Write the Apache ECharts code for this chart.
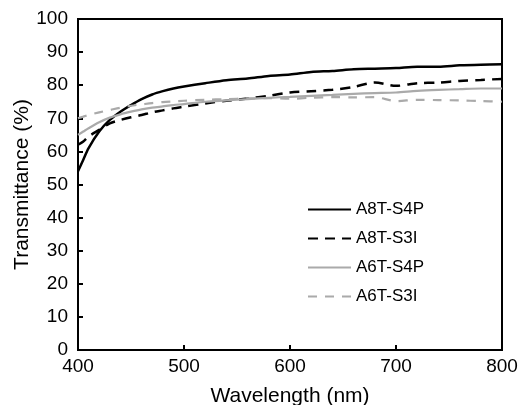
<!DOCTYPE html>
<html>
<head>
<meta charset="utf-8">
<script src="https://cdn.jsdelivr.net/npm/echarts@6/dist/echarts.min.js"></script>
<style>
  html, body { margin: 0; padding: 0; background: #fff; }
  #chart { width: 524px; height: 405px; }
</style>
</head>
<body>
<div id="chart"></div>
<script>
// wavelength (nm)
var wl = [400,405,410,420,430,440,450,460,470,480,490,500,520,540,560,580,600,620,640,660,680,700,720,740,760,780,800];
// transmittance (%)
var a8tS4P = [54,57.5,61,66,69.5,72,74,75.8,77.2,78.2,79,79.6,80.6,81.5,82,82.8,83.2,84,84.3,84.8,85,85.2,85.6,85.6,86,86.2,86.3];
var a8tS3I = [62,63,64.5,66.5,68.5,69.5,70.3,71,71.8,72.4,73,73.5,74.5,75.3,76,76.8,77.8,78.2,78.6,79.5,80.8,79.8,80.6,80.8,81.3,81.6,81.9];
var a6tS4P = [65,66,67,68.8,70.2,71.2,72,72.7,73.2,73.6,74,74.3,75,75.4,75.8,76.2,76.5,76.8,77.1,77.4,77.6,77.8,78.3,78.6,78.8,79,79];
var a6tS3I = [70,70.5,71,71.8,72.5,73.2,73.8,74.2,74.6,74.9,75.1,75.3,75.6,75.8,76,76.1,75.9,76.2,76.4,76.3,76.4,75.2,75.6,75.5,75.4,75.2,75];
var names = ['A8T-S4P', 'A8T-S3I', 'A6T-S4P', 'A6T-S3I'];

function pairs(ys) {
    var out = [];
    for (var i = 0; i < wl.length; i++) out.push([wl[i], ys[i]]);
    return out;
}

function mkSeries(name, ys, color, type, width) {
    return {
        name: name,
        type: 'line',
        data: pairs(ys),
        symbol: 'none',
        legendIcon: 'none',
        smooth: 0.3,
        color: color,
        lineStyle: { color: color, width: width, type: type },
        z: 3
    };
}

var myChart = echarts.init(document.getElementById('chart'));
var font = 'Liberation Sans, Arial, sans-serif';
myChart.setOption({
    animation: false,
    backgroundColor: '#fff',
    textStyle: { fontFamily: font },
    grid: {
        left: 78, right: 22, top: 19, bottom: 55,
        outerBoundsMode: 'none',
        show: true, borderColor: '#000', borderWidth: 2
    },
    legend: {
        data: names,
        orient: 'vertical',
        left: 302,
        top: 196,
        itemWidth: 43,
        itemHeight: 20,
        itemGap: 12,
        itemStyle: { opacity: 0 },
        textStyle: { fontFamily: font, fontSize: 17, color: '#000' }
    },
    xAxis: {
        type: 'value',
        min: 400,
        max: 800,
        interval: 100,
        name: 'Wavelength (nm)',
        nameLocation: 'middle',
        nameGap: 36,
        nameMoveOverlap: false,
        nameTextStyle: { fontFamily: font, fontSize: 21, color: '#000' },
        axisLine: { lineStyle: { color: '#000', width: 2 } },
        axisTick: { inside: true, length: 5, lineStyle: { color: '#000', width: 2 } },
        axisLabel: { fontFamily: font, fontSize: 19, color: '#000', margin: 7 },
        splitLine: { show: false }
    },
    yAxis: {
        type: 'value',
        min: 0,
        max: 100,
        interval: 10,
        name: 'Transmittance (%)',
        nameLocation: 'middle',
        nameGap: 45,
        nameMoveOverlap: false,
        nameTextStyle: { fontFamily: font, fontSize: 21, color: '#000' },
        axisLine: { lineStyle: { color: '#000', width: 2 } },
        axisTick: { inside: true, length: 5, lineStyle: { color: '#000', width: 2 } },
        axisLabel: { fontFamily: font, fontSize: 19, color: '#000', margin: 10 },
        splitLine: { show: false }
    },
    series: [
        mkSeries(names[0], a8tS4P, '#000000', 'solid', 2.5),
        mkSeries(names[1], a8tS3I, '#000000', [10, 7], 2.5),
        mkSeries(names[2], a6tS4P, '#aaaaaa', 'solid', 2.2),
        mkSeries(names[3], a6tS3I, '#aaaaaa', [9, 8], 2.2)
    ]
});
</script>
</body>
</html>
